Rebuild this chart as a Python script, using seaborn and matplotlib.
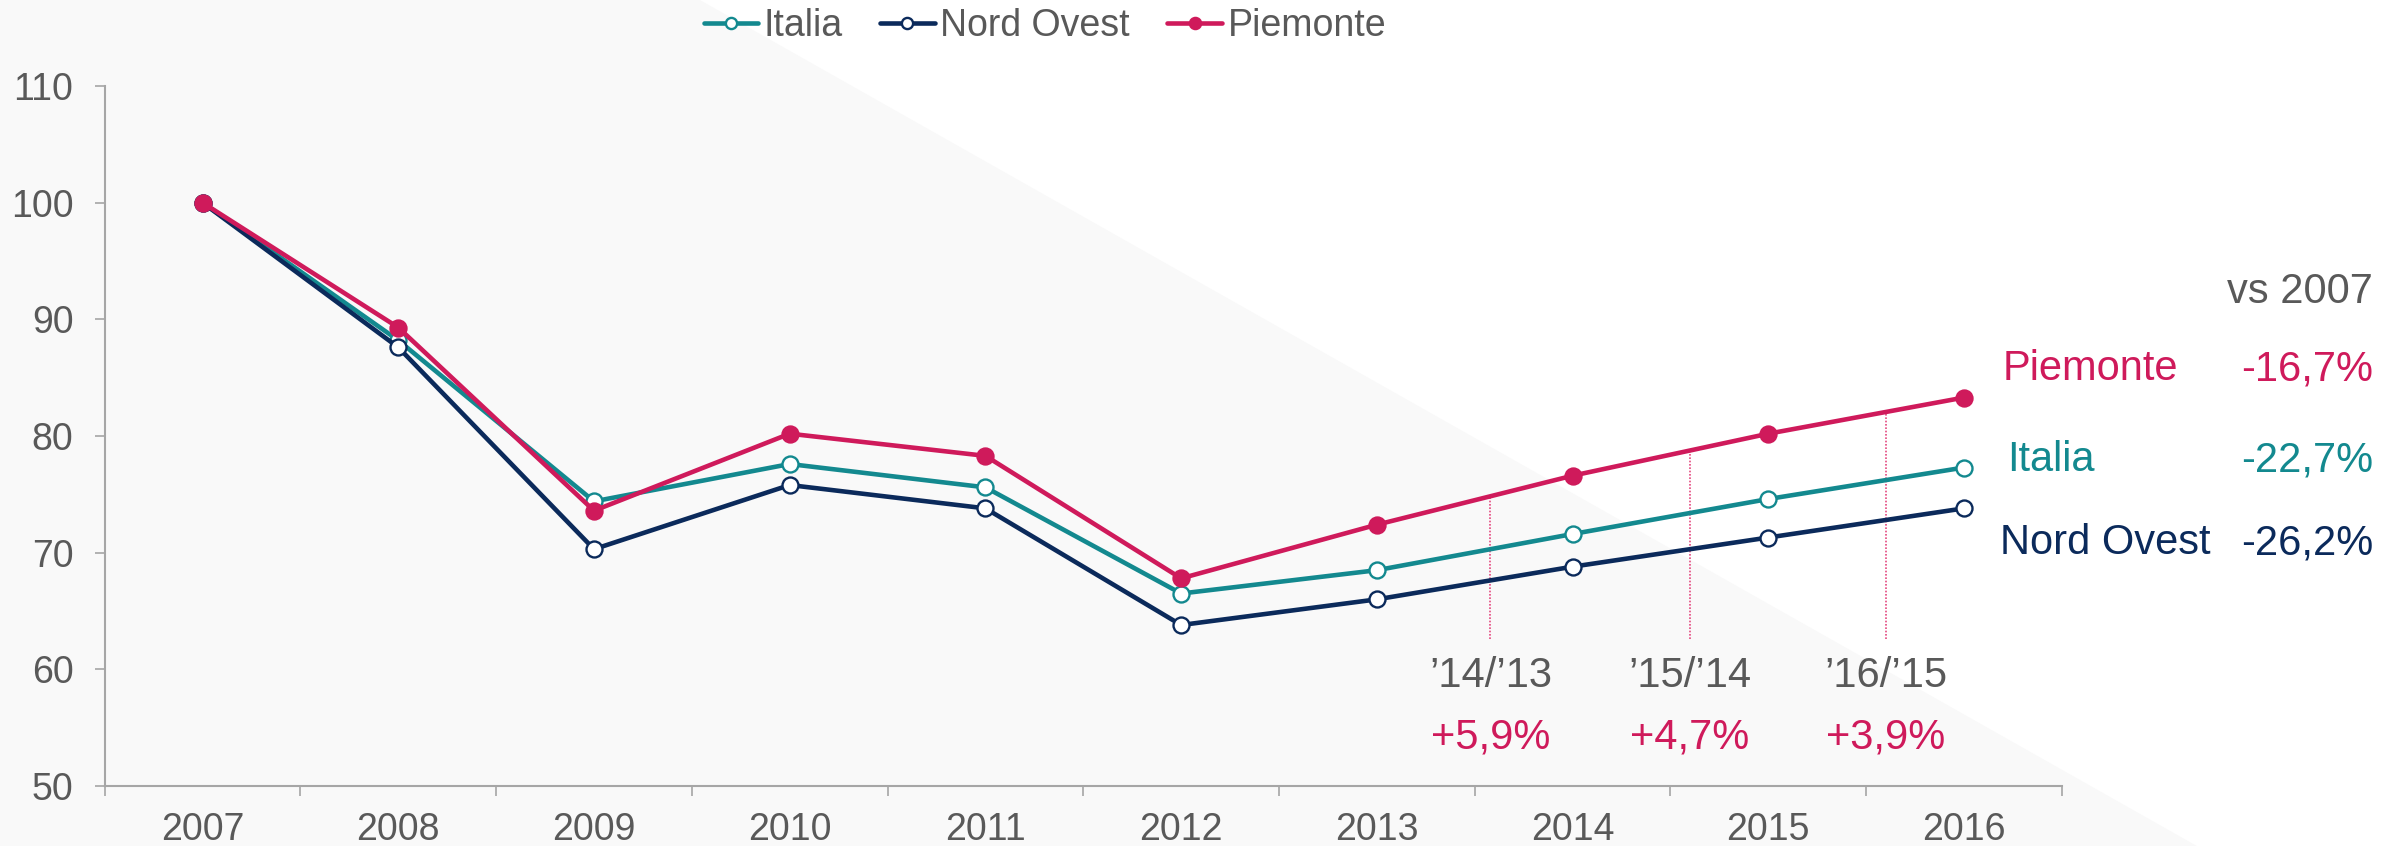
import numpy as np
import pandas as pd
import matplotlib
matplotlib.use("Agg")
import matplotlib.pyplot as plt
import seaborn as sns
from matplotlib.patches import Polygon

years = ["2007", "2008", "2009", "2010", "2011", "2012", "2013", "2014", "2015", "2016"]
italia = [100, 88.2, 74.4, 77.6, 75.6, 66.5, 68.5, 71.6, 74.6, 77.3]
nord_ovest = [100, 87.6, 70.3, 75.8, 73.8, 63.8, 66.0, 68.8, 71.3, 73.8]
piemonte = [100, 89.3, 73.6, 80.2, 78.3, 67.8, 72.4, 76.6, 80.2, 83.3]

series_names = ["Italia", "Nord Ovest", "Piemonte"]
vs_2007 = ["-22,7%", "-26,2%", "-16,7%"]

# year-on-year labels for Piemonte
yoy_labels = ["\u201914/\u201913", "\u201915/\u201914", "\u201916/\u201915"]
yoy_values = ["+5,9%", "+4,7%", "+3,9%"]
yoy_pos = [6.58, 7.6, 8.6]

c_italia = "#13898f"
c_nord = "#0b2a5b"
c_piem = "#cf1a5b"
c_grey = "#595959"
c_axis = "#a6a6a6"

sns.set_style("white")
plt.rcParams["font.family"] = ["Liberation Sans", "DejaVu Sans"]

df = pd.DataFrame({"idx": np.arange(len(years)), "Italia": italia,
                   "Nord Ovest": nord_ovest, "Piemonte": piemonte})

fig = plt.figure(figsize=(24.02, 8.46), dpi=100)
fig.patch.set_facecolor("white")

ax = fig.add_axes([0.0436, 0.0709, 0.8148, 0.8274])
ax.set_facecolor("none")

# light grey triangle in the background
bg = Polygon([(0, 1), (0.2914, 1), (0.9146, 0), (0, 0)], closed=True,
             transform=fig.transFigure, facecolor="#f9f9f9", edgecolor="none",
             zorder=-10, clip_on=False)
ax.add_patch(bg)

lw = 3.3
ms = 11.5
style = [("Italia", c_italia, "white", 3), ("Nord Ovest", c_nord, "white", 3),
         ("Piemonte", c_piem, c_piem, 4)]
for name, col, face, z in style:
    sns.lineplot(data=df, x="idx", y=name, ax=ax, color=col, linewidth=lw, marker="o",
                 markersize=ms, markerfacecolor=face, markeredgecolor=col,
                 markeredgewidth=1.7, label=name, zorder=z)

ax.set_xlim(-0.5, len(years) - 0.5)
ax.set_ylim(50, 110)
ax.set_yticks(range(50, 111, 10))
ax.set_xticks(np.arange(len(years)))
ax.set_xticklabels(years)
ax.set_xticks(np.arange(-0.5, len(years), 1.0), minor=True)
ax.set_xlabel("")
ax.set_ylabel("")

for s in ["top", "right"]:
    ax.spines[s].set_visible(False)
for s in ["left", "bottom"]:
    ax.spines[s].set_color(c_axis)
    ax.spines[s].set_linewidth(1.5)

ax.tick_params(axis="x", which="major", length=0, pad=19, labelsize=27, labelcolor=c_grey)
ax.tick_params(axis="x", which="minor", length=7.5, width=1.2, color=c_axis, direction="out")
ax.tick_params(axis="y", length=7.5, width=1.2, color=c_axis, direction="out",
               pad=15, labelsize=27, labelcolor=c_grey)
ax.tick_params(bottom=True, left=True, which="both")

# dotted markers for yearly changes
piem_at = np.interp(yoy_pos, df["idx"], piemonte)
ax.vlines(yoy_pos, 62.6, piem_at, colors="#e4487f", linestyles=(0, (1, 1)), lw=1.2, zorder=2)
for x, lab, val in zip(yoy_pos, yoy_labels, yoy_values):
    ax.text(x, 58.45, lab, ha="center", va="baseline", fontsize=30, color=c_grey)
    ax.text(x, 53.2, val, ha="center", va="baseline", fontsize=30, color=c_piem)

# right side summary
fig.text(0.9879, 1 - 303 / 846, "vs 2007", ha="right", va="baseline", fontsize=30, color=c_grey)
right_rows = [("Piemonte", vs_2007[2], c_piem, 380, 0.8339),
              ("Italia", vs_2007[0], c_italia, 471, 0.8356),
              ("Nord Ovest", vs_2007[1], c_nord, 554, 0.8326)]
for name, val, col, ypx, xl in right_rows:
    fig.text(xl, 1 - ypx / 846, name, ha="left", va="baseline", fontsize=30, color=col)
    fig.text(0.9879, 1 - ypx / 846, val, ha="right", va="baseline", fontsize=30, color=col)

ax.legend(loc="center", bbox_to_anchor=(0.435, 0.969), bbox_transform=fig.transFigure,
          ncol=3, frameon=False, fontsize=27, labelcolor=c_grey, handlelength=1.45,
          handletextpad=0.15, columnspacing=1.0, markerscale=0.7)

fig.savefig("out.png", dpi=100)
